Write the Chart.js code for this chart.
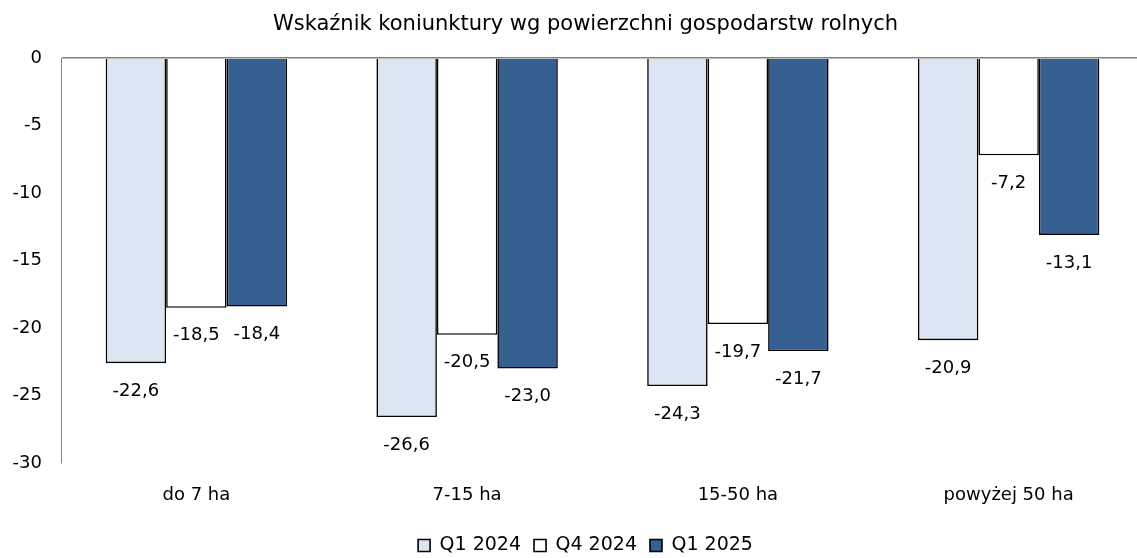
<!DOCTYPE html>
<html><head><meta charset="utf-8">
<script src="https://cdn.jsdelivr.net/npm/chart.js@4"></script>
<style>html,body{margin:0;padding:0;background:#fff}#wrap{width:1137px;height:558px}</style>
</head><body><div id="wrap"><canvas id="c"></canvas></div>
<script>
const categories = ['do 7 ha', '7-15 ha', '15-50 ha', 'powyżej 50 ha'];
const q1_2024 = [-22.6, -26.6, -24.3, -20.9];
const q4_2024 = [-18.5, -20.5, -19.7, -7.2];
const q1_2025 = [-18.4, -23.0, -21.7, -13.1];
const seriesNames = ['Q1 2024', 'Q4 2024', 'Q1 2025'];
const yTicks = [0, -5, -10, -15, -20, -25, -30];
const FONT = "'DejaVu Sans', sans-serif";

const labelPlugin = {
  id: 'barLabels',
  afterLayout(chart) {
    // plot area in the reference extends slightly past the right edge
    const x = chart.scales.x;
    x.right = x.right + 7;
    x.width = x.right - x.left;
    x.configure();
    // title and legend in the reference are centred a little right of the page centre
    chart.titleBlock.left += 17;
    chart.titleBlock.right += 17;
    chart.legend.left += 17;
    chart.legend.right += 17;
    chart.legend.top += 7;
    chart.legend.bottom += 7;
  },
  afterDatasetsDraw(chart) {
    const ctx = chart.ctx;
    ctx.save();
    ctx.font = '18px ' + FONT;
    ctx.fillStyle = '#000';
    ctx.textAlign = 'center';
    ctx.textBaseline = 'middle';
    chart.data.datasets.forEach((ds, i) => {
      chart.getDatasetMeta(i).data.forEach((bar, j) => {
        const v = ds.data[j];
        ctx.fillText(v.toFixed(1).replace('.', ','), bar.x, bar.y + 28);
      });
    });
    ctx.restore();
  }
};

new Chart(document.getElementById('c'), {
  type: 'bar',
  data: {
    labels: categories,
    datasets: [
      { label: seriesNames[0], data: q1_2024, backgroundColor: '#dce6f2', borderColor: '#000', borderWidth: 1.6 },
      { label: seriesNames[1], data: q4_2024, backgroundColor: '#ffffff', borderColor: '#000', borderWidth: 1.6 },
      { label: seriesNames[2], data: q1_2025, backgroundColor: '#376092', borderColor: '#000', borderWidth: 1.6 }
    ]
  },
  plugins: [labelPlugin],
  options: {
    responsive: true,
    maintainAspectRatio: false,
    animation: false,
    layout: { padding: { left: 0, right: 0, top: 4, bottom: 0 } },
    datasets: { bar: { categoryPercentage: 0.67, barPercentage: 1.0 } },
    plugins: {
      title: { display: true, text: 'Wskaźnik koniunktury wg powierzchni gospodarstw rolnych', color: '#000',
        font: { family: FONT, size: 21, weight: 'normal' }, padding: { top: 8, bottom: 21 } },
      legend: { position: 'bottom', labels: { color: '#000', boxWidth: 12, boxHeight: 12,
        font: { family: FONT, size: 19 }, padding: 13 } },
      tooltip: { enabled: false }
    },
    scales: {
      x: {
        afterFit(axis) { axis.height = 53; },
        grid: { display: false, drawTicks: false },
        border: { display: false },
        ticks: { color: '#000', font: { family: FONT, size: 18 }, padding: 22 }
      },
      y: {
        min: -30, max: 0,
        afterBuildTicks(axis) { axis.ticks = yTicks.map(v => ({ value: v })); },
        afterFit(axis) { axis.width = 61; },
        grid: { drawTicks: false, color: ctx => ctx.tick && ctx.tick.value === 0 ? '#808080' : 'rgba(0,0,0,0)', lineWidth: 1.5 },
        border: { display: true, color: '#808080', width: 1 },
        ticks: { color: '#000', font: { family: FONT, size: 18 }, padding: 19, callback: v => String(v) }
      }
    }
  }
});
</script>
</body></html>
